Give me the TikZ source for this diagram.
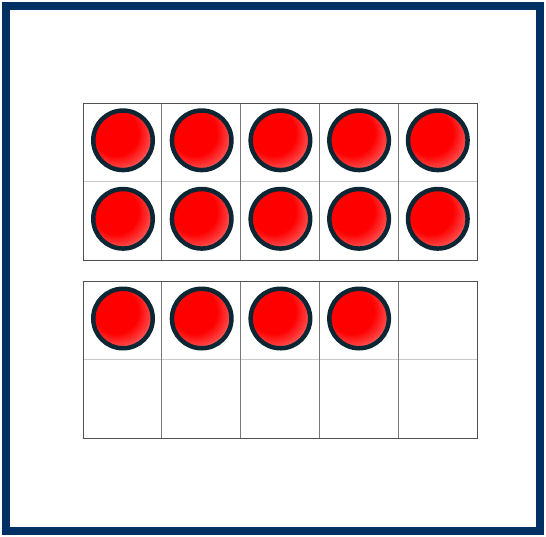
\documentclass[tikz,border=0pt]{standalone}
\usepackage{xcolor}
\usepackage{tikz}
\definecolor{frameblue}{RGB}{0,48,100}
\definecolor{counteredge}{RGB}{12,38,52}
\definecolor{cellline}{RGB}{120,120,120}
\definecolor{rowline}{RGB}{200,200,200}
\definecolor{boxline}{RGB}{80,80,80}
\pgfdeclareradialshading{counterfill}{\pgfpoint{-10bp}{10bp}}{color(0bp)=(red); color(19bp)=(red); color(27bp)=(red!75!white); color(35bp)=(red!30!white); color(50bp)=(red!30!white)}
\tikzset{
  counter/.style={circle, draw=counteredge, line width=4.5pt, minimum size=59.5pt, inner sep=0pt, shading=counterfill, shade},
}

\begin{document}
\begin{tikzpicture}[x=1pt,y=-1pt]
\useasboundingbox (0,0) rectangle (546,536);
% Outer frame
\draw[frameblue, line width=8pt, fill=white] (6,6) rectangle (540,531);
% Two ten-frames
\foreach \top in {103,281} {
  \draw[rowline, line width=0.8pt] (83,\top+78.5) -- (477,\top+78.5);
  \foreach \i in {1,...,4} {
    \draw[cellline, line width=0.8pt] (83+\i*78.8,\top) -- (83+\i*78.8,\top+157);
  }
  \draw[boxline, line width=1pt] (83,\top) rectangle (477,\top+157);
}
% Counters: ten in the first frame
\foreach \row in {0,1} {
  \foreach \col in {0,...,4} {
    \node[counter] (a-\row-\col) at (123+\col*78.7,140.3+\row*78.5) {};
  }
}
% Counters: four in the second frame
\foreach \col in {0,...,3} {
  \node[counter] (b-\col) at (123+\col*78.7,318.5) {};
}
\end{tikzpicture}
\end{document}
